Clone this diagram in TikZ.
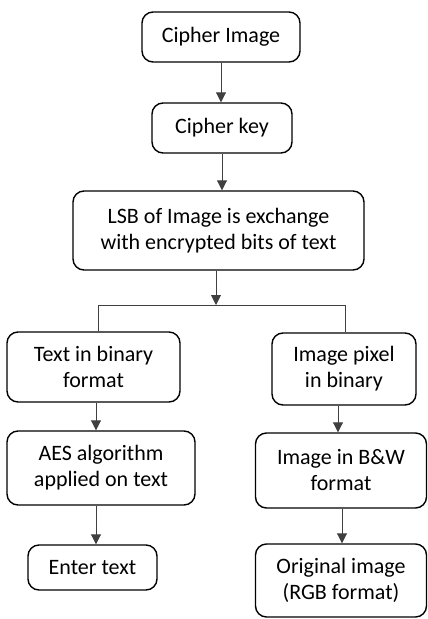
\documentclass[tikz,border=0pt]{standalone}
\usepackage{fontspec}
\setmainfont{Carlito}
\usetikzlibrary{arrows.meta}

\begin{document}
\begin{tikzpicture}[
  x=1pt, y=-1pt,
  font=\fontsize{22}{26}\selectfont,
  blk/.style={draw=black, line width=1.4pt, rounded corners=11pt,
              align=center, inner sep=0pt},
  conn/.style={draw=black!75, line width=0.9pt},
  arr/.style={conn, -{Triangle[width=10pt,length=10pt]}},
]
\useasboundingbox (0,0) rectangle (428,619);

% ============ top chain ============
\node[blk, minimum width=158, minimum height=50] (cimg) at (221,37) {Cipher Image};
\node[blk, minimum width=140, minimum height=50] (ckey) at (222,128) {Cipher key};
\node[blk, minimum width=291, minimum height=79] (lsb) at (218.5,230.5)
  {LSB of Image is exchange\\with encrypted bits of text};

\draw[arr] (cimg.south) -- (cimg.south |- ckey.north);
\draw[arr] (ckey.south) -- (ckey.south |- lsb.north);

% fork into the two branches
\coordinate (fork)  at (216,305);
\coordinate (forkL) at (98,305);
\coordinate (forkR) at (345,305);

% ============ left branch: text ============
\node[blk, minimum width=173, minimum height=70] (txtbin) at (93.5,367) {Text in binary\\format};
\node[blk, minimum width=188, minimum height=74] (aes) at (101,468)
  {AES algorithm\\applied on text};
\node[blk, minimum width=129, minimum height=45] (enter) at (92.5,567.5) {Enter text};

% ============ right branch: image ============
\node[blk, minimum width=144, minimum height=72] (imgpix) at (344,369) {Image pixel\\in binary};
\node[blk, minimum width=171, minimum height=75] (imgbw) at (341,470.5) {Image in B\&W\\format};
\node[blk, minimum width=171, minimum height=73] (orig) at (341,580.5)
  {Original image\\(RGB format)};

\draw[arr] (lsb.south -| fork) -- (fork);
\draw[conn] (forkL |- txtbin.north) -- (forkL) -- (forkR) -- (forkR |- imgpix.north);

\draw[arr] (txtbin.south -| 96,0) -- (aes.north -| 96,0);
\draw[arr] (aes.south -| 96,0) -- (enter.north -| 96,0);
\draw[arr] (imgpix.south -| 338,0) -- (imgbw.north -| 338,0);
\draw[arr] (imgbw.south -| 342,0) -- (orig.north -| 342,0);

\end{tikzpicture}
\end{document}
